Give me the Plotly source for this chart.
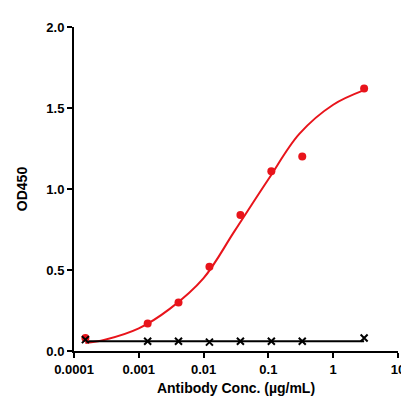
import plotly.graph_objects as go

conc = [0.00015, 0.00137, 0.0041, 0.0123, 0.037, 0.111, 0.333, 3.0]
od_red = [0.08, 0.17, 0.30, 0.52, 0.84, 1.11, 1.20, 1.62]
od_black = [0.07, 0.06, 0.06, 0.055, 0.06, 0.06, 0.06, 0.08]

# fitted curve
fit_x = [0.00015, 0.0003, 0.001, 0.003, 0.01, 0.03, 0.1, 0.3, 1.0, 3.0]
fit_y = [0.05, 0.07, 0.14, 0.26, 0.45, 0.74, 1.06, 1.34, 1.52, 1.61]
flat_y = [0.06] * len(fit_x)

fig = go.Figure()
fig.add_trace(go.Scatter(x=fit_x, y=fit_y, mode='lines', line=dict(color='#e8141b', width=2, shape='spline')))
fig.add_trace(go.Scatter(x=fit_x, y=flat_y, mode='lines', line=dict(color='black', width=2)))
fig.add_trace(go.Scatter(x=conc, y=od_red, mode='markers', marker=dict(color='#e8141b', size=8)))
fig.add_trace(go.Scatter(x=conc, y=od_black, mode='markers',
                         marker=dict(color='black', size=7, symbol='x-thin', line=dict(width=2, color='black'))))

axis = dict(showgrid=False, zeroline=False, showline=True, linecolor='black', linewidth=2,
            ticks='outside', tickwidth=2, ticklen=5, tickcolor='black',
            tickfont=dict(family='Liberation Sans', size=13, color='black', weight='bold'))
fig.update_layout(
    width=409, height=405, showlegend=False,
    plot_bgcolor='white', paper_bgcolor='white',
    margin=dict(l=66, r=15, t=17, b=62),
    xaxis=dict(axis, type='log', range=[-4, 1],
               tickvals=[0.0001, 0.001, 0.01, 0.1, 1, 10],
               ticktext=['0.0001', '0.001', '0.01', '0.1', '1', '10'],
               title=dict(text='<b>Antibody Conc. (µg/mL)</b>', standoff=8,
                          font=dict(family='Liberation Sans', size=14, color='black'))),
    yaxis=dict(axis, range=[0, 2.0], tickvals=[0, 0.5, 1.0, 1.5, 2.0],
               ticktext=['0.0', '0.5', '1.0', '1.5', '2.0'],
               title=dict(text='<b>OD450</b>', font=dict(family='Liberation Sans', size=14, color='black'))),
)
fig.write_html("out.html")
